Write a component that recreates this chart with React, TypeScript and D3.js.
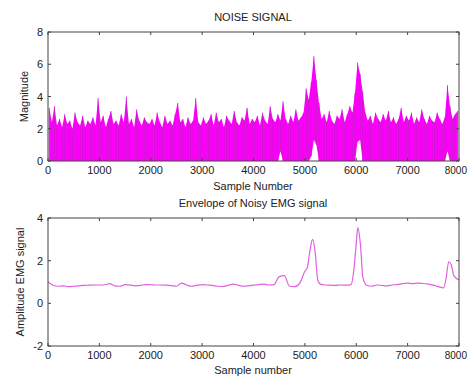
import React from "react";
import * as d3 from "d3";

// noise signal, max / min per 50-sample bin
const noiseMax = [
  3.3, 2.4, 3.4, 2.2, 2.6, 2.1, 2.9, 2.3, 2.5, 2.0, 3.0, 2.4, 2.2, 2.8, 2.1, 2.5, 2.3, 2.7, 2.2, 3.9,
  2.4, 2.8, 2.1, 2.6, 3.1, 2.3, 2.5, 2.2, 2.9, 2.4, 4.0, 2.3, 2.6, 2.1, 3.2, 2.5, 2.2, 2.7, 2.4, 2.3,
  2.6, 2.2, 3.0, 2.4, 2.1, 2.8, 2.3, 2.5, 2.2, 2.9, 3.6, 2.4, 2.6, 2.1, 2.7, 2.3, 2.5, 3.9, 2.4, 2.2,
  2.7, 2.3, 2.5, 2.9, 2.2, 3.0, 2.4, 2.6, 2.1, 2.8, 2.5, 2.3, 3.1, 2.4, 2.2, 2.7, 2.5, 3.3, 2.3, 2.6,
  2.4, 2.8, 2.2, 3.0, 2.5, 2.3, 3.4, 2.6, 2.4, 2.9, 2.5, 3.7, 2.6, 2.3, 2.8, 2.4, 3.2, 2.5, 2.7, 3.0,
  4.5, 3.8, 4.9, 6.5, 5.0, 3.6, 2.6, 2.9, 2.4, 3.1, 2.5, 2.3, 2.8, 2.6, 3.2, 2.4, 2.9, 3.4, 3.0, 4.2,
  6.1, 5.4, 4.3, 3.0, 2.5, 2.8, 2.3, 3.0, 2.6, 2.4, 2.9, 2.5, 3.1, 2.4, 2.7, 2.3, 2.6, 3.3, 2.4, 2.8,
  2.5, 3.0, 2.3, 2.7, 2.4, 3.2, 2.6, 2.3, 2.8, 2.5, 2.4, 3.0, 2.6, 2.3, 2.7, 4.7, 3.4, 2.6, 2.9, 3.1,
];
const noiseMin = [
  0, 0, 0, 0, 0, 0, 0, 0, 0, 0, 0, 0, 0, 0, 0, 0, 0, 0, 0, 0,
  0, 0, 0, 0, 0, 0, 0, 0, 0, 0, 0, 0, 0, 0, 0, 0, 0, 0, 0, 0,
  0, 0, 0, 0, 0, 0, 0, 0, 0, 0, 0, 0, 0, 0, 0, 0, 0, 0, 0, 0,
  0, 0, 0, 0, 0, 0, 0, 0, 0, 0, 0, 0, 0, 0, 0, 0, 0, 0, 0, 0,
  0, 0, 0, 0, 0, 0, 0, 0, 0, 0, 0.6, 0, 0, 0, 0, 0, 0, 0, 0, 0,
  0, 0, 0.3, 1.3, 1.0, 0, 0, 0, 0, 0, 0, 0, 0, 0, 0, 0, 0, 0, 0, 0,
  1.2, 1.3, 0, 0, 0, 0, 0, 0, 0, 0, 0, 0, 0, 0, 0, 0, 0, 0, 0, 0,
  0, 0, 0, 0, 0, 0, 0, 0, 0, 0, 0, 0, 0, 0, 0, 0.6, 0, 0, 0, 0,
];
const binSize = 50;

// envelope of the noisy EMG signal
const envSample = [
  0, 100, 200, 300, 400, 500, 600, 700, 800, 900, 1000, 1100, 1200, 1300, 1400, 1500, 1600, 1700,
  1800, 1900, 2000, 2100, 2200, 2300, 2400, 2500, 2600, 2700, 2800, 2900, 3000, 3100, 3200, 3300,
  3400, 3500, 3600, 3700, 3800, 3900, 4000, 4100, 4200, 4300, 4400, 4500, 4600, 4700, 4800, 4900,
  5000, 5050, 5100, 5150, 5200, 5250, 5300, 5400, 5500, 5600, 5700, 5800, 5900, 5950, 6000, 6030,
  6080, 6130, 6200, 6300, 6400, 6500, 6600, 6700, 6800, 6900, 7000, 7100, 7200, 7300, 7400, 7500,
  7600, 7700, 7750, 7800, 7850, 7900, 8000,
];
const envValue = [
  1.0, 0.85, 0.8, 0.82, 0.78, 0.8, 0.82, 0.84, 0.85, 0.86, 0.86, 0.87, 0.92, 0.82, 0.8, 0.88, 0.85,
  0.82, 0.84, 0.88, 0.87, 0.86, 0.86, 0.85, 0.83, 0.8, 0.95, 0.86, 0.8, 0.85, 0.88, 0.86, 0.84, 0.8,
  0.79, 0.84, 0.9, 0.85, 0.8, 0.82, 0.85, 0.88, 0.9, 0.86, 0.88, 1.25, 1.3, 0.8, 0.78, 0.95,
  1.5, 1.7, 2.5, 3.0, 2.4, 1.1, 0.9, 0.86, 0.85, 0.84, 0.86, 0.85, 0.88, 1.5, 2.8, 3.55,
  2.8, 1.2, 0.85, 0.8, 0.86, 0.84, 0.82, 0.86, 0.88, 0.92, 0.95, 0.92, 0.95, 0.93, 0.9, 0.85,
  0.78, 0.72, 1.2, 1.95, 1.8, 1.3, 1.1,
];

const xTicks = [0, 1000, 2000, 3000, 4000, 5000, 6000, 7000, 8000];
const topYTicks = [0, 2, 4, 6, 8];
const botYTicks = [-2, 0, 2, 4];

const W = 469;
const H = 376;
const left = 48;
const right = 459;
const font = "Arial, 'Liberation Sans', sans-serif";
const axisColor = "#444";

const x = d3.scaleLinear().domain([0, 8000]).range([left, right]);

type Bin = { s: number; hi: number; lo: number };

function Frame({ y, yTicks }: { y: d3.ScaleLinear<number, number>; yTicks: number[] }) {
  const [y0, y1] = y.range();
  const tl = 3;
  return (
    <g fontFamily={font} fill="#222">
      <rect x={left} y={y1} width={right - left} height={y0 - y1} fill="none" stroke={axisColor} strokeWidth={1} />
      {xTicks.map((t, i) => {
        const last = i === xTicks.length - 1;
        return (
          <g key={"x" + t}>
            <line x1={x(t)} x2={x(t)} y1={y0} y2={y0 - tl} stroke={axisColor} />
            <line x1={x(t)} x2={x(t)} y1={y1} y2={y1 + tl} stroke={axisColor} />
            <text
              x={last ? W - 2 : x(t)}
              y={y0 + 13}
              fontSize={last ? 10 : 11}
              textAnchor={last ? "end" : "middle"}
            >
              {t}
            </text>
          </g>
        );
      })}
      {yTicks.map((t) => (
        <g key={"y" + t}>
          <line x1={left} x2={left + tl} y1={y(t)} y2={y(t)} stroke={axisColor} />
          <line x1={right} x2={right - tl} y1={y(t)} y2={y(t)} stroke={axisColor} />
          <text x={left - 5} y={y(t) + 4} fontSize={11} textAnchor="end">
            {t}
          </text>
        </g>
      ))}
    </g>
  );
}

export default function App() {
  const yTop = d3.scaleLinear().domain([0, 8]).range([161, 32]);
  const yBot = d3.scaleLinear().domain([-2, 4]).range([346, 218]);

  const bins: Bin[] = noiseMax.map((v, i) => ({ s: i * binSize + binSize / 2, hi: v, lo: noiseMin[i] }));
  const noiseArea = d3
    .area<Bin>()
    .x((d) => x(d.s))
    .y0((d) => yTop(d.lo))
    .y1((d) => yTop(d.hi));

  const envLine = d3
    .line<number>()
    .x((_, i) => x(envSample[i]))
    .y((d) => yBot(d))
    .curve(d3.curveMonotoneX);

  return (
    <div style={{ position: "absolute", left: 0, top: 0 }}>
      <svg width={W} height={H} style={{ display: "block", background: "#fff" }}>
        {/* top: noise signal */}
        <path d={noiseArea(bins) ?? ""} fill="#ff00ff" />
        {bins.map((d, i) => (
          <line
            key={i}
            x1={x(d.s)}
            x2={x(d.s)}
            y1={yTop(d.lo)}
            y2={yTop(d.hi)}
            stroke="#c818c8"
            strokeWidth={0.8}
          />
        ))}
        <Frame y={yTop} yTicks={topYTicks} />
        <text x={253} y={21} fontSize={11} textAnchor="middle" fontFamily={font} fill="#222">
          NOISE SIGNAL
        </text>
        <text x={253} y={190} fontSize={11} textAnchor="middle" fontFamily={font} fill="#222">
          Sample Number
        </text>
        <text
          transform={`translate(28, ${yTop(4)}) rotate(-90)`}
          fontSize={11}
          textAnchor="middle"
          fontFamily={font}
          fill="#222"
        >
          Magnitude
        </text>

        {/* bottom: envelope */}
        <path d={envLine(envValue) ?? ""} fill="none" stroke="#e060e0" strokeWidth={1.2} />
        <Frame y={yBot} yTicks={botYTicks} />
        <text x={253} y={207} fontSize={11} textAnchor="middle" fontFamily={font} fill="#222">
          Envelope of Noisy EMG signal
        </text>
        <text x={253} y={374} fontSize={11} textAnchor="middle" fontFamily={font} fill="#222">
          Sample number
        </text>
        <text
          transform={`translate(24, ${yBot(1)}) rotate(-90)`}
          fontSize={11}
          textAnchor="middle"
          fontFamily={font}
          fill="#222"
        >
          Amplitude EMG signal
        </text>
      </svg>
    </div>
  );
}
